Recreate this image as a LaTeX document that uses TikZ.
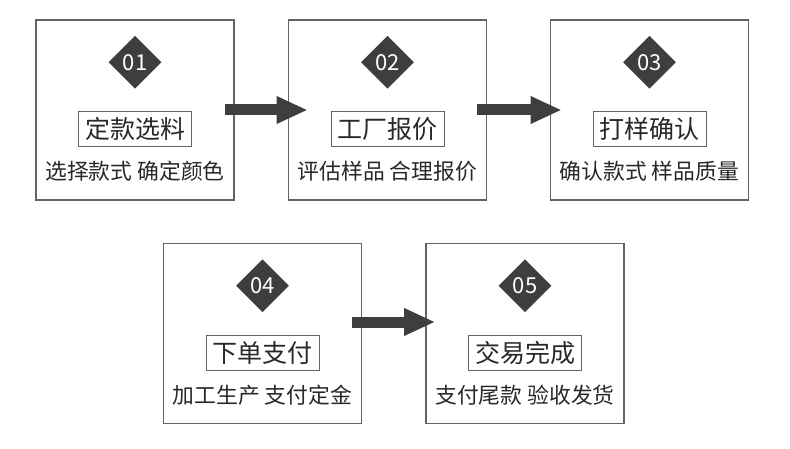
\documentclass[tikz,border=0pt]{standalone}
\usepackage{fontspec}
\setmainfont{Noto Sans CJK SC}
\usepackage{tikz}
\usepgflibrary{arrows.meta}
\usetikzlibrary{calc,shapes.geometric}

\definecolor{darkfill}{RGB}{62,62,62}
\definecolor{framegray}{RGB}{100,100,100}
\definecolor{textgray}{RGB}{40,40,40}

\begin{document}
\begin{tikzpicture}[
  x=1pt, y=-1pt,
  flow arrow/.style={
  arrows = {-Triangle[length=30pt,width=28pt,line width=0pt]},
  line width=11pt,
  draw=darkfill
  },
  stepbox/.style={
      draw=framegray,
      line width=1.6pt,
      minimum width=198pt,
      minimum height=180pt,
      inner sep=0pt
    },
  badge/.style={
      diamond,
      fill=darkfill,
      text=white,
      inner sep=0pt,
      minimum width=53pt,
      minimum height=53pt,
      font=\fontsize{22}{22}\selectfont
    },
  title/.style={
      draw=framegray,
      line width=1pt,
      minimum width=113pt,
      minimum height=35pt,
      inner sep=0pt,
      text=textgray,
      font=\fontsize{25}{25}\selectfont
    },
  desc/.style={
      text=textgray,
      inner sep=0pt,
      font=\fontsize{21.8}{22}\selectfont
    }]

  \useasboundingbox (0,0) rectangle (790,449);

  % first row
  \node [stepbox] (b1) at (135,110) {};
  \node [badge] (n1) at ($(b1.north) + (0,43)$) {01};
  \node [title] (t1) at ($(b1.north) + (0,110)$) {定款选料};
  \node [desc] (d1) at ($(b1.north) + (0,152)$) {选择款式 确定颜色};

  \node [stepbox] (b2) at (387.5,110) {};
  \node [badge] (n2) at ($(b2.north) + (0,43)$) {02};
  \node [title] (t2) at ($(b2.north) + (0,110)$) {工厂报价};
  \node [desc] (d2) at ($(b2.north) + (0,152)$) {评估样品 合理报价};

  \node [stepbox] (b3) at (649.5,110) {};
  \node [badge] (n3) at ($(b3.north) + (0,43)$) {03};
  \node [title] (t3) at ($(b3.north) + (0,110)$) {打样确认};
  \node [desc] (d3) at ($(b3.north) + (0,152)$) {确认款式 样品质量};

  % second row
  \node [stepbox] (b4) at (262.5,333.5) {};
  \node [badge] (n4) at ($(b4.north) + (0,43)$) {04};
  \node [title] (t4) at ($(b4.north) + (0,110)$) {下单支付};
  \node [desc] (d4) at ($(b4.north) + (0,152)$) {加工生产 支付定金};

  \node [stepbox] (b5) at (525,333.5) {};
  \node [badge] (n5) at ($(b5.north) + (0,43)$) {05};
  \node [title] (t5) at ($(b5.north) + (0,110)$) {交易完成};
  \node [desc] (d5) at ($(b5.north) + (0,152)$) {支付尾款 验收发货};

  \draw [flow arrow] ($(b1.east) + (-10,0)$) -- ($(b2.west) + (19,0)$);
  \draw [flow arrow] ($(b2.east) + (-10,0)$) -- ($(b3.west) + (11,0)$);
  \draw [flow arrow] ($(b4.east) + (-10,-11.5)$) -- ($(b5.west) + (9,-11.5)$);
\end{tikzpicture}
\end{document}
